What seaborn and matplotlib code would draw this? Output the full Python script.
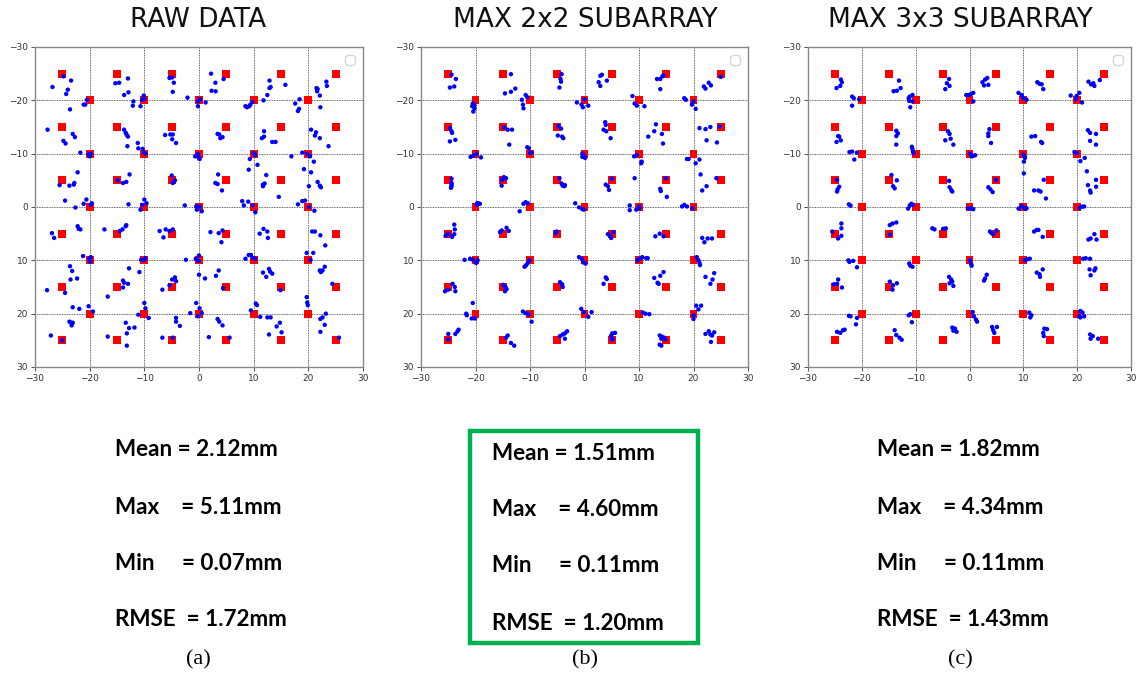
import numpy as np
import pandas as pd
import matplotlib
matplotlib.use("Agg")
import matplotlib.pyplot as plt
from matplotlib.patches import Rectangle
import seaborn as sns

# Calibration targets: a 6x6 grid on odd multiples of 5 and a 5x5 grid on multiples of 10
target_outer = [-25, -15, -5, 5, 15, 25]
target_inner = [-20, -10, 0, 10, 20]

# Measured positions (mm) for each processing method
raw_xy = np.array([
    (-24.8, -24.5), (-23.4, -23.7), (-26.8, -22.5), (-24.0, -22.0), (-24.3, -21.2), (-23.6, -18.3),
    (-20.5, -20.1), (-20.8, -19.2), (-21.1, -19.2),
    (-15.3, -23.2), (-14.6, -23.3), (-13.0, -24.1), (-12.9, -21.5), (-13.7, -21.0), (-12.0, -19.8),
    (-12.1, -19.0), (-10.7, -18.9), (-10.1, -20.9), (-10.0, -20.3), (-10.4, -20.1),
    (-5.4, -24.2), (-4.9, -24.3), (-4.6, -23.3), (-4.8, -21.6), (-2.1, -20.5), (-0.2, -19.8),
    (-0.2, -18.9), (0.2, -20.2), (1.2, -19.6),
    (2.2, -25.0), (3.0, -23.3), (2.3, -21.8), (3.05, -21.7), (4.5, -24.0),
    (8.5, -18.9), (8.8, -18.7), (9.2, -18.9), (9.4, -19.2), (9.8, -19.7),
    (11.8, -20.0), (12.5, -21.0), (12.9, -22.3), (13.1, -22.5), (12.9, -23.7), (15.8, -22.9),
    (17.6, -19.4), (18.1, -18.0), (18.3, -18.4), (18.4, -20.2),
    (21.5, -22.3), (21.7, -22.1), (21.6, -21.7), (22.1, -20.9), (22.2, -18.7), (23.3, -23.5), (23.4, -22.7),
    (-27.7, -14.5), (-24.8, -12.4), (-24.4, -11.9), (-23.1, -13.7), (-22.7, -13.1), (-21.7, -10.2),
    (-20.2, -9.9), (-20.0, -9.5), (-19.8, -10.0),
    (-13.7, -14.5), (-13.4, -13.9), (-13.2, -13.5), (-13.0, -13.2), (-13.1, -11.4), (-11.2, -12.0),
    (-11.1, -11.0), (-10.3, -10.9), (-10.1, -10.2), (-9.8, -10.0),
    (-6.2, -13.5), (-5.25, -13.6), (-4.8, -13.6), (-4.9, -12.7), (-4.2, -12.0),
    (-0.7, -9.5), (-0.2, -9.9), (0.0, -9.2), (0.1, -9.0),
    (3.4, -13.7), (3.7, -13.6), (3.9, -12.9), (4.3, -13.1),
    (11.5, -12.9), (11.9, -13.2), (11.9, -14.2), (13.4, -12.2), (14.0, -12.2), (10.0, -10.1),
    (10.3, -9.7), (9.3, -9.0), (16.9, -9.5),
    (20.5, -14.5), (21.2, -13.4), (21.4, -14.0), (22.1, -12.9), (23.7, -11.4), (18.9, -10.2),
    (20.3, -9.5), (19.8, -10.0), (21.0, -8.5), (19.2, -7.1), (9.1, -7.0), (10.7, -7.9),
    (-22.2, -6.5), (-25.5, -4.1), (-23.7, -4.0), (-22.9, -4.2), (-22.8, -4.5), (-24.5, -1.2),
    (-22.6, 0.1), (-21.1, -0.6), (-20.6, -1.4), (-19.6, -0.7), (-19.8, -0.4),
    (-14.9, -5.0), (-13.9, -4.5), (-13.3, -4.7), (-12.7, -6.1), (-12.9, -0.5), (-10.7, 0.5),
    (-10.4, -0.4), (-10.0, -1.4), (-9.6, -0.7),
    (-5.0, -5.9), (-4.8, -4.5), (-4.6, -4.7), (-4.4, -5.0), (-2.6, -0.3), (-0.5, -0.1),
    (-0.4, 0.5), (0.1, -0.1), (0.5, 0.8),
    (3.5, -6.1), (3.0, -4.5), (3.4, -4.3), (4.2, -3.1),
    (7.9, -1.1), (9.0, -1.0), (8.2, -0.3), (9.8, -0.3), (10.3, 1.0),
    (11.7, -4.2), (12.0, -4.4), (12.3, -6.0), (11.7, -3.9), (14.6, -1.9),
    (18.1, -0.5), (18.9, -1.1), (19.4, -1.2), (20.1, 0.0), (21.1, 0.7), (20.1, -3.9), (20.5, -6.5),
    (21.7, -4.7), (22.1, -4.0), (22.3, -3.7),
    (-26.9, 4.9), (-26.5, 5.8), (-22.2, 3.6), (-22.0, 4.1), (-21.7, 4.2), (-21.2, 9.2),
    (-20.1, 9.7), (-19.9, 10.3), (-19.8, 9.4),
    (-17.3, 4.2), (-14.5, 4.5), (-14.0, 4.2), (-13.4, 3.6), (-13.3, 3.4), (-10.6, 9.9),
    (-10.1, 9.9), (-9.8, 9.6),
    (-7.2, 4.5), (-6.5, 5.7), (-6.1, 4.2), (-5.4, 4.5), (-4.8, 4.2), (-2.4, 9.9), (-0.6, 9.7),
    (0.0, 9.1), (-0.1, 10.1),
    (2.1, 4.7), (3.6, 4.9), (4.3, 4.4), (4.1, 6.6),
    (8.5, 9.7), (9.1, 9.0), (9.5, 9.0), (9.9, 9.6), (10.3, 9.7),
    (11.1, 5.0), (11.8, 4.1), (12.5, 4.6), (12.6, 5.8),
    (19.7, 8.6), (20.9, 8.6), (20.4, 9.9), (20.7, 4.6), (21.2, 4.6), (22.2, 5.3), (23.1, 7.2),
    (-27.8, 15.6), (-24.5, 16.1), (-23.6, 11.1), (-23.2, 12.0), (-23.5, 13.6), (-22.3, 13.4),
    (-23.1, 18.8), (-21.9, 19.1), (-20.2, 18.6), (-19.4, 19.6),
    (-16.7, 16.8), (-13.9, 13.8), (-13.7, 14.2), (-13.0, 14.4), (-13.9, 15.1), (-12.8, 11.5),
    (-10.9, 12.2), (-11.1, 20.2), (-10.0, 18.0), (-9.8, 19.0), (-9.2, 20.8),
    (-6.7, 15.5), (-5.4, 14.7), (-4.9, 13.6), (-4.4, 13.2), (-4.2, 13.9),
    (0.0, 12.7), (1.1, 13.4), (3.1, 12.9), (3.6, 11.9), (4.4, 15.2),
    (-1.6, 19.9), (-0.5, 18.0), (0.1, 19.0), (-0.2, 20.5), (0.5, 19.9),
    (11.7, 12.3), (12.3, 13.1), (12.8, 11.6), (13.0, 12.1), (13.4, 12.5), (14.9, 15.6),
    (19.7, 16.9), (19.8, 17.9), (19.9, 18.4), (22.1, 11.9), (22.6, 11.9), (23.0, 11.2),
    (22.3, 12.2), (24.4, 14.4), (10.4, 18.1), (10.6, 18.4), (9.5, 19.4),
    (-27.1, 24.1), (-25.0, 25.0), (-23.7, 21.5), (-23.4, 21.7), (-23.3, 22.2), (-23.1, 21.7),
    (-16.7, 24.3), (-13.4, 21.7), (-12.8, 22.7), (-13.2, 23.7), (-11.8, 22.6), (-13.2, 26.0),
    (-6.7, 24.5), (-4.8, 24.5), (-4.2, 20.8), (-4.2, 21.5), (-3.5, 22.3),
    (1.8, 24.4), (5.6, 24.5), (3.4, 21.0), (3.7, 21.5), (4.3, 22.2),
    (11.2, 20.6), (12.5, 20.7), (13.1, 20.7), (12.8, 23.9), (14.2, 22.4), (14.8, 21.7), (15.1, 23.5),
    (22.2, 21.0), (22.6, 20.7), (23.0, 22.1), (22.2, 23.4), (23.2, 20.0), (25.6, 24.5),
])

sub2_xy = np.array([
    (-24.4, -24.8), (-23.6, -24.0), (-24.7, -22.4), (-23.9, -22.6),
    (-13.5, -24.9), (-14.6, -21.3), (-13.5, -21.6), (-12.7, -22.2),
    (-20.5, -19.4), (-20.6, -18.9), (-20.2, -18.5), (-20.4, -17.9), (-20.2, -19.1),
    (-11.5, -20.1), (-11.3, -19.2), (-11.2, -18.5), (-10.8, -21.0), (-10.5, -20.6),
    (-4.2, -24.9), (-4.4, -24.0), (-4.3, -23.5), (-4.6, -22.4),
    (-1.4, -19.6), (-0.55, -19.2), (-0.3, -18.7), (0.7, -19.0), (0.0, -20.2),
    (3.2, -24.8), (2.9, -24.6), (2.6, -23.4), (2.9, -22.7), (4.1, -23.7),
    (8.8, -20.8), (9.2, -19.4), (9.6, -19.0), (11.0, -18.9),
    (13.3, -24.0), (13.9, -24.0), (14.3, -24.5), (14.5, -24.7), (13.9, -22.1),
    (18.3, -20.4), (18.6, -20.1), (19.7, -19.2), (20.4, -18.4), (20.0, -19.8),
    (21.9, -22.6), (22.8, -23.3), (23.2, -22.8), (22.2, -22.2), (25.0, -24.4),
    (-24.7, -14.8), (-24.4, -14.2), (-24.3, -13.9), (-24.7, -12.3), (-23.7, -12.6),
    (-20.9, -9.4), (-20.4, -9.6), (-19.8, -10.0), (-19.0, -9.3),
    (-14.8, -14.9), (-14.1, -14.5), (-13.3, -14.5), (-13.8, -11.7),
    (-10.5, -11.2), (-10.2, -11.0), (-10.0, -10.1), (-9.7, -10.2),
    (-4.8, -15.2), (-4.3, -14.7), (-4.9, -13.4), (-4.1, -13.2), (-3.9, -12.9),
    (-0.4, -10.0), (0.0, -9.5), (-0.4, -9.4), (0.1, -9.2),
    (3.8, -15.9), (3.9, -15.4), (3.5, -14.5), (4.0, -14.2), (4.8, -12.9),
    (13.1, -15.5), (12.8, -14.2), (14.2, -13.7), (11.7, -13.2), (14.4, -11.9),
    (9.1, -9.5), (9.6, -9.7), (10.5, -8.5), (10.4, -8.2),
    (21.1, -14.8), (22.2, -14.6), (23.1, -15.0), (22.4, -12.5), (24.3, -12.1), (24.8, -15.1),
    (18.8, -9.0), (19.1, -9.0), (20.4, -8.2), (21.1, -8.9), (21.3, -6.1),
    (-24.4, -5.3), (-24.4, -4.5), (-24.4, -4.2), (-24.4, -3.9), (-24.5, -3.6),
    (-19.7, -0.7), (-19.8, -0.4), (-19.5, -0.7), (-19.2, -0.6),
    (-15.1, -5.1), (-14.8, -5.6), (-14.4, -5.4), (-15.2, -4.0),
    (-11.9, 0.8), (-11.2, -0.6), (-10.8, -0.9), (-10.4, -0.7),
    (-4.6, -5.4), (-4.2, -4.4), (-4.0, -4.0), (-3.6, -4.1), (-3.7, -3.9),
    (-1.7, -0.7), (-1.0, 0.06), (-0.4, 0.4), (-0.1, 0.5),
    (3.9, -4.2), (4.3, -3.9), (4.5, -3.2), (5.0, -5.3), (9.2, -5.4),
    (8.3, -0.3), (8.3, 0.6), (9.5, 0.5), (10.0, -0.1), (10.1, 0.2),
    (13.9, -3.4), (14.0, -3.0), (14.9, -5.4), (15.1, -1.9),
    (17.9, -0.1), (18.3, -0.4), (18.8, -0.1), (19.8, 0.25),
    (21.6, -3.1), (22.4, -3.9), (24.2, -5.4),
    (-25.5, 5.4), (-25.0, 5.0), (-24.3, 5.6), (-23.9, 5.1), (-23.8, 4.2), (-23.9, 3.3),
    (-22.0, 9.9), (-21.0, 9.7), (-20.5, 9.9), (-19.9, 10.5), (-19.6, 10.0),
    (-15.5, 4.7), (-15.2, 4.4), (-14.3, 3.9), (-13.9, 4.5),
    (-11.0, 11.2), (-10.7, 10.9), (-10.4, 10.5), (-10.1, 10.0),
    (-5.3, 4.9), (-5.1, 4.6),
    (-1.0, 9.4), (-0.5, 9.7), (-0.2, 10.4), (0.2, 10.6),
    (4.3, 5.1), (4.7, 5.5), (4.9, 5.8), (5.3, 4.7),
    (9.7, 10.0), (10.1, 9.7), (10.6, 9.4), (11.3, 9.6), (11.6, 9.6),
    (13.0, 5.5), (13.8, 5.0), (14.5, 5.5),
    (20.6, 9.4), (20.9, 10.0), (21.1, 10.5), (21.2, 10.9),
    (21.6, 5.8), (22.0, 6.6), (22.6, 5.9), (23.4, 5.9),
    (-25.6, 15.8), (-25.0, 15.5), (-24.2, 14.4), (-23.7, 15.8), (-23.8, 15.0),
    (-20.5, 18.0), (-21.7, 20.0), (-21.6, 20.3), (-20.7, 20.9), (-20.1, 20.9),
    (-14.9, 14.6), (-14.5, 15.0), (-14.3, 15.4), (-14.6, 15.8),
    (-11.3, 19.6), (-10.8, 19.9), (-10.2, 20.2), (-9.7, 21.5),
    (-4.5, 14.1), (-4.1, 14.5), (-4.0, 15.0),
    (-0.6, 19.1), (-0.1, 19.7), (0.7, 20.6), (1.3, 19.7),
    (3.5, 14.4), (3.9, 13.2), (4.1, 13.5),
    (12.8, 13.3), (13.4, 14.2), (13.9, 12.9), (14.5, 12.2), (13.6, 14.4),
    (10.7, 19.8), (11.2, 20.0), (11.9, 20.1),
    (20.5, 18.5), (20.9, 19.2), (21.4, 18.5), (20.0, 20.3), (20.0, 21.0),
    (22.2, 13.1), (23.1, 14.4), (23.5, 13.6), (23.8, 12.4),
    (-25.0, 23.8), (-25.0, 24.8), (-23.7, 23.8), (-23.3, 23.3), (-23.1, 23.0),
    (-14.4, 24.5), (-14.1, 24.1), (-13.5, 25.5), (-12.9, 26.0),
    (-4.5, 24.2), (-4.0, 23.9), (-3.6, 23.7), (-3.6, 24.7), (-3.2, 23.3),
    (4.9, 24.1), (5.1, 23.7), (5.6, 23.6), (5.0, 24.8), (5.2, 24.8),
    (13.8, 24.1), (14.1, 24.7), (14.2, 24.3), (13.8, 25.8), (14.1, 26.0), (14.6, 24.5), (14.8, 24.8),
    (22.8, 23.3), (23.1, 23.9), (23.4, 24.1), (23.8, 23.5), (23.2, 25.3), (22.2, 23.8),
])

sub3_xy = np.array([
    (-23.9, -23.9), (-23.7, -23.4), (-24.0, -22.7), (-24.7, -22.3),
    (-21.8, -20.7), (-21.5, -20.4), (-21.8, -19.0), (-20.5, -20.2),
    (-13.1, -23.7), (-12.8, -22.3), (-14.1, -21.7), (-13.5, -21.8),
    (-11.1, -20.7), (-11.3, -20.4), (-10.6, -21.0), (-11.0, -18.7), (-10.6, -19.8), (-11.2, -19.9),
    (-3.8, -24.0), (-4.2, -23.2), (-3.7, -22.7), (-4.5, -22.1),
    (-0.6, -21.0), (-0.1, -21.0), (0.3, -21.2), (0.7, -21.4), (0.7, -19.8),
    (2.4, -23.4), (2.9, -23.9), (3.3, -24.2), (2.7, -22.8), (3.5, -22.9),
    (9.1, -21.4), (9.7, -21.0), (10.0, -20.4), (10.6, -20.1),
    (12.6, -23.4), (13.0, -23.1), (13.4, -23.0), (13.7, -22.1),
    (18.8, -20.9), (19.9, -20.8), (20.4, -21.4), (20.9, -19.6), (19.8, -20.2),
    (22.1, -23.5), (22.6, -23.0), (23.0, -23.2), (23.2, -22.7), (24.2, -23.8),
    (-24.7, -12.2), (-24.2, -13.2), (-24.4, -13.3), (-23.9, -12.5),
    (-22.3, -10.3), (-21.8, -10.4), (-21.4, -8.9), (-20.9, -10.2),
    (-13.6, -14.3), (-13.3, -13.8), (-13.6, -13.3), (-13.6, -11.7),
    (-10.7, -11.3), (-10.6, -10.9), (-10.5, -10.4), (-10.4, -10.1),
    (-4.0, -14.2), (-3.7, -13.7), (-3.5, -12.8), (-4.5, -12.5), (-3.0, -11.7),
    (0.1, -10.0), (0.7, -9.6), (1.05, -9.7), (0.4, -9.5),
    (3.7, -14.6), (3.5, -13.8), (3.5, -13.3), (4.0, -12.0),
    (10.0, -9.8), (10.3, -9.2), (10.1, -8.5), (10.1, -6.3),
    (11.5, -13.2), (12.2, -13.3), (13.3, -12.2), (13.5, -12.0),
    (19.5, -10.3), (19.9, -10.1), (20.6, -8.6), (21.4, -9.2),
    (22.0, -14.4), (22.4, -13.9), (22.4, -12.4), (23.5, -13.7), (23.5, -11.7), (21.8, -6.7),
    (-24.6, -5.1), (-24.2, -3.8), (-24.5, -3.3), (-24.6, -2.9),
    (-22.4, -0.5), (-22.1, -0.25),
    (-14.5, -6.0), (-14.2, -3.9), (-13.9, -3.5), (-13.5, -5.0),
    (-11.4, 0.3), (-11.1, -0.3), (-10.8, -0.6), (-10.5, -0.4),
    (-3.8, -4.9), (-3.7, -3.7), (-3.4, -3.2), (-3.2, -2.9),
    (-0.3, 0.25), (0.3, 0.25), (0.7, 0.4),
    (3.5, -3.7), (3.9, -3.3), (4.3, -2.8), (4.9, -5.1),
    (9.1, 0.3), (9.7, -0.2), (10.2, 0.25), (10.6, 0.25),
    (12.0, -3.1), (12.8, -3.1), (13.2, -2.9), (13.8, -5.1), (14.2, -1.6),
    (20.4, 0.2), (20.9, -0.06), (21.3, -0.1),
    (22.0, -4.1), (22.4, -3.1), (22.5, -2.7), (23.5, -5.1), (23.5, -3.8),
    (-25.5, 4.6), (-23.8, 3.1), (-23.8, 4.0), (-24.4, 5.9), (-23.8, 5.4),
    (-22.5, 10.0), (-22.3, 10.3), (-21.6, 10.1), (-20.9, 11.3),
    (-14.8, 3.4), (-14.3, 3.1), (-13.6, 2.9), (-14.8, 5.2),
    (-11.2, 10.6), (-11.0, 11.0), (-10.6, 11.2),
    (-6.9, 4.0), (-6.5, 4.2), (-4.9, 4.1), (-4.4, 4.0),
    (0.06, 10.0), (0.3, 10.7), (0.4, 11.0),
    (3.8, 4.6), (4.1, 4.9), (4.4, 5.1), (5.0, 4.4),
    (10.3, 10.0), (10.7, 9.8), (11.2, 9.7),
    (12.0, 4.6), (12.5, 4.3), (12.8, 4.3), (13.6, 5.6),
    (21.1, 9.7), (21.6, 9.6), (22.4, 9.7),
    (22.1, 6.1), (22.5, 5.9), (23.2, 5.1), (23.6, 6.1),
    (-25.2, 14.5), (-24.6, 14.4), (-24.4, 13.6), (-23.7, 15.1),
    (-22.1, 20.5), (-22.4, 20.4), (-20.9, 20.8), (-21.1, 22.0),
    (-14.8, 14.0), (-14.2, 14.7), (-13.5, 14.3), (-14.3, 15.5),
    (-11.3, 20.3), (-11.0, 20.1), (-10.7, 21.6),
    (-3.8, 13.1), (-3.4, 13.6), (-3.2, 14.0), (-3.7, 14.3), (-3.0, 14.8),
    (0.6, 19.7), (0.8, 20.5), (1.2, 21.1), (1.4, 21.5),
    (3.2, 12.7), (2.9, 13.4), (2.7, 13.8),
    (11.1, 19.8), (11.5, 20.3), (11.3, 20.7),
    (12.5, 12.3), (13.0, 12.6), (13.6, 11.7), (13.1, 13.1),
    (20.6, 19.5), (21.0, 19.8), (20.4, 20.5), (20.6, 20.7), (21.3, 20.5),
    (22.3, 11.7), (22.5, 12.8), (23.2, 11.9), (23.4, 11.5),
    (-24.6, 23.4), (-24.0, 23.6), (-23.5, 23.1), (-23.2, 23.0),
    (-13.9, 23.1), (-13.6, 24.0), (-13.0, 24.5), (-12.6, 24.9),
    (-3.2, 22.6), (-3.0, 23.2), (-2.7, 22.8), (-2.4, 23.4),
    (4.2, 22.5), (4.4, 23.1), (4.6, 23.6), (5.1, 22.5),
    (13.9, 22.8), (14.4, 22.9), (13.7, 23.6), (13.8, 24.2),
    (22.4, 23.9), (22.9, 24.2), (22.5, 24.7), (23.9, 24.7),
])

panel_titles = ["RAW DATA", "MAX 2x2 SUBARRAY", "MAX 3x3 SUBARRAY"]
panel_tags = ["(a)", "(b)", "(c)"]
stat_names = ["Mean", "Max", "Min", "RMSE"]
stat_values = [
    [2.12, 5.11, 0.07, 1.72],
    [1.51, 4.60, 0.11, 1.20],
    [1.82, 4.34, 0.11, 1.43],
]
stat_gaps = {"Mean": " ", "Max": "    ", "Min": "     ", "RMSE": "  "}
tick_values = [-30, -20, -10, 0, 10, 20, 30]

sns.set_theme(style="white")
plt.rcParams["font.family"] = ["DejaVu Sans"]

# Target table built from the two grids
targets = pd.DataFrame(
    [(x, y) for y in target_outer for x in target_outer]
    + [(x, y) for y in target_inner for x in target_inner],
    columns=["x", "y"],
)

W, H = 1139, 680
fig = plt.figure(figsize=(W / 100, H / 100), dpi=100)
fig.patch.set_facecolor("white")

axes_px = [(35, 363), (421, 748), (808, 1131)]
ax_top, ax_bot = 47, 367
title_cx = [198, 585, 960]
stats_left = [115, 492, 877]
tag_cx = [198, 585, 960]

for i, (pts, (l, r)) in enumerate(zip([raw_xy, sub2_xy, sub3_xy], axes_px)):
    ax = fig.add_axes([l / W, 1 - ax_bot / H, (r - l) / W, (ax_bot - ax_top) / H])
    meas = pd.DataFrame(pts, columns=["x", "y"])
    sns.scatterplot(data=targets, x="x", y="y", ax=ax, marker="s", s=32,
                    color="#ff0000", edgecolor="none", zorder=3, legend=False)
    sns.scatterplot(data=meas, x="x", y="y", ax=ax, marker="o", s=10,
                    color="#0000ff", edgecolor="none", zorder=4, legend=False)
    ax.set_xlim(-30, 30)
    ax.set_ylim(30, -30)
    ax.set_xticks(tick_values)
    ax.set_yticks(tick_values)
    ax.set_xlabel("")
    ax.set_ylabel("")
    ax.grid(True, color="#333333", linestyle=(0, (1, 1)), linewidth=0.6)
    ax.set_axisbelow(True)
    ax.tick_params(axis="both", labelsize=6.5, colors="#333333", length=3,
                   width=0.6, direction="out", bottom=True, left=True, pad=2)
    for sp in ax.spines.values():
        sp.set_color("#888888")
        sp.set_linewidth(1.0)
    ax.legend(handles=[], loc="upper right", frameon=True, borderpad=0.35,
              framealpha=0.8, edgecolor="#cccccc")

    fig.text(title_cx[i] / W, 1 - 20 / H, panel_titles[i], ha="center", va="center",
             fontsize=19, color="#111111")

    line_y = [450, 507, 563, 620] if i != 1 else [453, 509, 566, 623]
    for name, val, yy in zip(stat_names, stat_values[i], line_y):
        fig.text(stats_left[i] / W, 1 - yy / H, f"{name}{stat_gaps[name]}= {val:.2f}mm",
                 ha="left", va="center", fontsize=16.2, fontweight="bold",
                 family="Lato", color="black")

    fig.text(tag_cx[i] / W, 1 - 660 / H, panel_tags[i], ha="center", va="center",
             fontsize=16, family="Liberation Serif", color="black")

# Highlight frame around the best result
fig.add_artist(Rectangle((470 / W, 1 - 643 / H), 228 / W, 212 / H,
                         transform=fig.transFigure, fill=False,
                         edgecolor="#00b050", linewidth=3.2))

fig.savefig("out.png", dpi=100, facecolor="white")
